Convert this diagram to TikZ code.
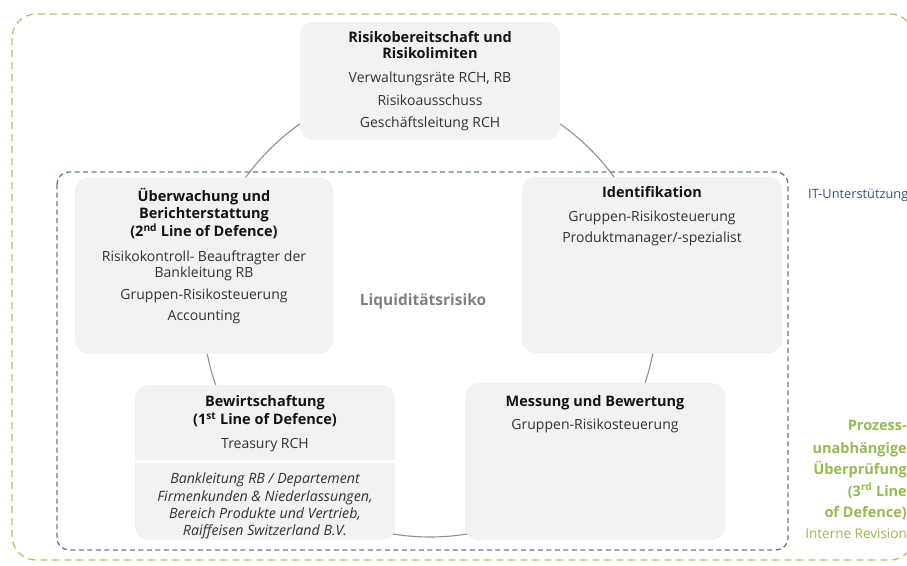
\documentclass[tikz,border=0pt]{standalone}
\usepackage{fontspec}
\setmainfont{Open Sans}
\begin{document}
\begin{tikzpicture}[x=1pt,y=-1pt,
  box/.style={fill=boxgray,draw=none,rounded corners=13pt,inner sep=0pt},
  ttl/.style={anchor=base,inner sep=0pt,font=\fontsize{14.5}{17}\selectfont\bfseries,text=titlecol},
  bdy/.style={anchor=base,inner sep=0pt,font=\fontsize{14}{16}\selectfont,text=bodycol},
  itl/.style={anchor=base,inner sep=0pt,font=\fontsize{14.2}{16}\selectfont\itshape,text=bodycol},
  grn/.style={anchor=base east,inner sep=0pt,font=\fontsize{14.5}{17}\selectfont\bfseries,text=greentext},
]
\definecolor{boxgray}{RGB}{242,242,242}
\definecolor{titlecol}{RGB}{20,20,20}
\definecolor{bodycol}{RGB}{50,50,50}
\definecolor{ringcol}{RGB}{145,145,145}
\definecolor{bluedash}{RGB}{100,120,155}
\definecolor{greendash}{RGB}{178,194,112}
\definecolor{greentext}{RGB}{150,186,84}
\definecolor{itblue}{RGB}{45,85,135}
\definecolor{liqgray}{RGB}{128,128,128}

\useasboundingbox (0,0) rectangle (907,565);
\fill[white] (0,0) rectangle (907,565);

% frames
\draw[greendash,line width=1.3pt,dash pattern=on 7pt off 5pt,rounded corners=24pt] (12,14) rectangle (914,560);
\draw[bluedash,line width=1.3pt,dash pattern=on 5pt off 3.5pt,rounded corners=12pt] (57,172) rectangle (788,550);

% cycle ring behind the boxes
\node[circle,draw=ringcol,line width=1.1pt,minimum size=454pt,inner sep=0pt] (ring) at (430,310) {};

% boxes
\node[box,minimum width=260pt,minimum height=118pt] (top) at (430,81) {};
\node[box,minimum width=258pt,minimum height=176pt] (left) at (204,265.5) {};
\node[box,minimum width=260pt,minimum height=176pt] (right) at (652,265) {};
\node[box,minimum width=260pt,minimum height=155pt] (bl) at (265,462.5) {};
\node[box,minimum width=260pt,minimum height=157pt] (br) at (595,461.5) {};
\draw[white,line width=3pt] (bl.west |- 0,461.5) -- (bl.east |- 0,461.5);

% top box text
\node[ttl] (t1) at (430,42.5) {Risikobereitschaft und};
\node[ttl] (t2) at (430,58) {Risikolimiten};
\node[bdy] (t3) at (430,82.5) {Verwaltungsräte RCH, RB};
\node[bdy] (t4) at (430,105.5) {Risikoausschuss};
\node[bdy] (t5) at (430,127.5) {Geschäftsleitung RCH};

% left box text
\node[ttl] (l1) at (204,201.5) {Überwachung und};
\node[ttl] (l2) at (204,218.5) {Berichterstattung};
\node[ttl] (l3) at (204,236.5) {(2\textsuperscript{nd} Line of Defence)};
\node[bdy] (l4) at (204,261) {Risikokontroll- Beauftragter der};
\node[bdy] (l5) at (204,277.5) {Bankleitung RB};
\node[bdy] (l6) at (204,299) {Gruppen-Risikosteuerung};
\node[bdy] (l7) at (204,320.5) {Accounting};

% right box text
\node[ttl] (r1) at (652,197.5) {Identifikation};
\node[bdy] (r2) at (652,221) {Gruppen-Risikosteuerung};
\node[bdy] (r3) at (652,242.5) {Produktmanager/-spezialist};

% bottom left text
\node[ttl] (b1) at (265,406) {Bewirtschaftung};
\node[ttl] (b2) at (265,424.5) {(1\textsuperscript{st} Line of Defence)};
\node[bdy] (b3) at (265,448.5) {Treasury RCH};
\node[itl] (b4) at (265,483) {Bankleitung RB / Departement};
\node[itl] (b5) at (265,501) {Firmenkunden \& Niederlassungen,};
\node[itl] (b6) at (265,518) {Bereich Produkte und Vertrieb,};
\node[itl] (b7) at (265,535) {Raiffeisen Switzerland B.V.};

% bottom right text
\node[ttl] (m1) at (595,406) {Messung und Bewertung};
\node[bdy] (m2) at (595,429) {Gruppen-Risikosteuerung};

% centre label
\node[anchor=base,inner sep=0pt,font=\fontsize{15.5}{18}\selectfont\bfseries,text=liqgray] (liq) at (423,305.5) {Liquiditätsrisiko};

% IT label
\node[anchor=base west,inner sep=0pt,font=\fontsize{12.8}{15}\selectfont,text=itblue] (it) at (808,198) {IT-Unterstützung};

% green labels
\node[grn] (g1) at (907,430) {Prozess-};
\node[grn] (g2) at (907,453) {unabhängige};
\node[grn] (g3) at (907,474) {Überprüfung};
\node[grn] (g4) at (907,496) {(3\textsuperscript{rd} Line};
\node[grn] (g5) at (907,517) {of Defence)};
\node[anchor=base east,inner sep=0pt,font=\fontsize{13.5}{15}\selectfont,text=greentext] (g6) at (907,538) {Interne Revision};
\end{tikzpicture}
\end{document}
